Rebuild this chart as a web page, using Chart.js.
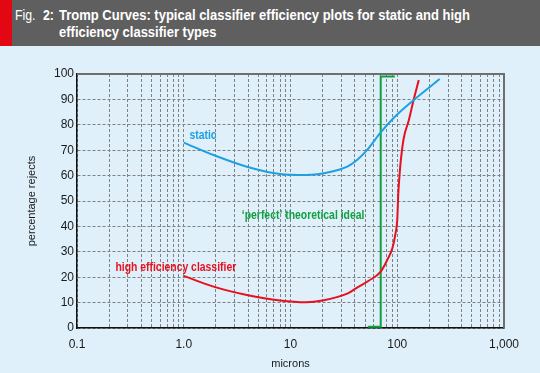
<!DOCTYPE html>
<html>
<head>
<meta charset="utf-8">
<script src="https://cdn.jsdelivr.net/npm/chart.js@4/dist/chart.umd.min.js"></script>
<style>
  body { margin: 0; background: #dff0fb; }
  #wrap { position: relative; width: 540px; height: 373px; overflow: hidden; }
  #head { position: absolute; left: 0; top: 0; width: 540px; height: 46px; background: #5f5f5f; }
  #strip { position: absolute; left: 0; top: 0; width: 12px; height: 46px; background: #e30613; }
  .hd { position: absolute; top: 6px; color: #fff; font: 15px/17px "Liberation Sans", Arial, sans-serif; white-space: nowrap; transform-origin: 0 0; }
  #fig { left: 15px; transform: scaleX(0.82); }
  #num { left: 43px; font-weight: bold; transform: scaleX(0.82); }
  #title { left: 59px; font-weight: bold; }
  #title span { display: block; }
  #box { position: absolute; left: 0; top: 46px; width: 540px; height: 327px; }
</style>
</head>
<body>
<div id="wrap">
  <div id="head"><div id="strip"></div>
    <div class="hd" id="fig">Fig.</div>
    <div class="hd" id="num">2:</div>
    <div class="hd" id="title"><span id="line1">Tromp Curves: typical classifier efficiency plots for static and high</span><span>efficiency classifier types</span></div>
  </div>
  <div id="box"><canvas id="tromp"></canvas></div>
</div>
<script>
// values (microns, % rejects)
const staticMicrons = [1.0, 1.9, 3.9, 8, 14, 24, 34, 42, 52, 70, 93, 143, 250];
const staticRejects = [73, 68.1, 63.5, 60.6, 60.2, 61.5, 63.5, 66.1, 70, 77, 82.8, 89.8, 98];

const highMicrons = [1.0, 1.9, 3.9, 8, 14, 20, 34, 41, 54, 70, 80.6, 90, 96.4, 100, 102.3, 106, 108, 115, 128.5, 141, 159];
const highRejects = [20.5, 16.3, 13, 10.8, 10.1, 10.8, 13.5, 15.6, 18.6, 22.2, 26.8, 31.4, 37.3, 42.5, 53, 62.2, 66, 74.7, 81.9, 89.1, 97.6];

const idealMicrons = [53, 70, 70, 95];
const idealRejects = [0.5, 0.5, 99, 99];

const xLabels = {0.1: '0.1', 1: '1.0', 10: '10', 100: '100', 1000: '1,000'};
const decades = [0.1, 1, 10, 100];
const steps = [1, 2, 3, 4, 5, 6, 7, 8, 9];

// squeeze the title into the narrow look of the original
let line1 = document.getElementById('line1');
let titleBox = document.getElementById('title');
titleBox.style.transform = 'scaleX(' + (411 / line1.getBoundingClientRect().width) + ')';

function pts(xs, ys) {
    return xs.map((x, i) => ({x: x, y: ys[i]}));
}

// grid at 1..9 of every decade
let gridValues = [];
decades.forEach(d => steps.forEach(s => gridValues.push(+(d * s).toPrecision(3))));
gridValues.push(1000);

function narrowText(ctx, text, x, y) {
    ctx.save();
    ctx.translate(x, y);
    ctx.scale(0.8, 1);
    ctx.fillText(text, 0, 0);
    ctx.restore();
}

// annotation texts + frame on top/right
const extras = {
    id: 'extras',
    afterDraw(chart) {
        const {ctx, chartArea: a, scales: {x, y}} = chart;
        ctx.save();
        ctx.strokeStyle = '#6e6e6e';
        ctx.lineWidth = 2;
        ctx.beginPath();
        ctx.moveTo(a.left, a.top);
        ctx.lineTo(a.right, a.top);
        ctx.lineTo(a.right, a.bottom);
        ctx.stroke();

        ctx.font = 'bold 13px "Liberation Sans", Arial, sans-serif';
        ctx.textBaseline = 'alphabetic';
        ctx.fillStyle = '#1ea0e0';
        narrowText(ctx, 'static', x.getPixelForValue(1.13), y.getPixelForValue(74.4));
        ctx.fillStyle = '#e8101e';
        narrowText(ctx, 'high efficiency classifier', x.getPixelForValue(0.229), y.getPixelForValue(22.4));
        ctx.fillStyle = '#10a040';
        narrowText(ctx, '\u2018perfect\u2019 theoretical ideal', x.getPixelForValue(3.5), y.getPixelForValue(42.9));
        ctx.restore();
    }
};

let trompCtx = document.getElementById('tromp');
let trompConfig = {
    type: 'line',
    data: {
        datasets: [{
            label: 'static',
            data: pts(staticMicrons, staticRejects),
            borderColor: '#1ea0e0',
            borderWidth: 2,
            cubicInterpolationMode: 'monotone',
            pointRadius: 0
        }, {
            label: 'high efficiency classifier',
            data: pts(highMicrons, highRejects),
            borderColor: '#e8101e',
            borderWidth: 2,
            cubicInterpolationMode: 'monotone',
            pointRadius: 0
        }, {
            label: 'perfect theoretical ideal',
            data: pts(idealMicrons, idealRejects),
            borderColor: '#10a040',
            borderWidth: 2,
            tension: 0,
            pointRadius: 0
        }]
    },
    options: {
        responsive: false,
        animation: false,
        layout: { padding: { top: 28, right: 36, left: 0, bottom: 0 } },
        plugins: { legend: { display: false }, tooltip: { enabled: false } },
        scales: {
            x: {
                type: 'logarithmic',
                min: 0.1,
                max: 1000,
                afterBuildTicks: s => { s.ticks = gridValues.map(v => ({value: v})); },
                afterFit: s => { s.height = 45; },
                grid: { color: '#808080', lineWidth: 1, drawTicks: false },
                border: { color: '#111', width: 1.5, dash: [3, 2] },
                ticks: {
                    autoSkip: false,
                    maxRotation: 0,
                    padding: 9,
                    color: '#1a1a1a',
                    font: { family: 'Liberation Sans', size: 12 },
                    callback: v => xLabels[v] || ''
                },
                title: {
                    display: true,
                    text: 'microns',
                    color: '#1a1a1a',
                    font: { family: 'Liberation Sans', size: 11 },
                    padding: { top: 0, bottom: 2 }
                }
            },
            y: {
                min: 0,
                max: 100,
                afterFit: s => { s.width = 77; },
                grid: { color: '#808080', lineWidth: 1, drawTicks: false },
                border: { color: '#111', width: 1.5, dash: [3, 2] },
                ticks: {
                    stepSize: 10,
                    padding: 3,
                    color: '#1a1a1a',
                    font: { family: 'Liberation Sans', size: 12 }
                },
                title: {
                    display: true,
                    text: 'percentage rejects',
                    color: '#1a1a1a',
                    font: { family: 'Liberation Sans', size: 11 },
                    padding: { top: 25, bottom: 0 }
                }
            }
        }
    },
    plugins: [extras]
};
trompCtx.width = 540;
trompCtx.height = 327;
let trompChart = new Chart(trompCtx, trompConfig);
</script>
</body>
</html>
